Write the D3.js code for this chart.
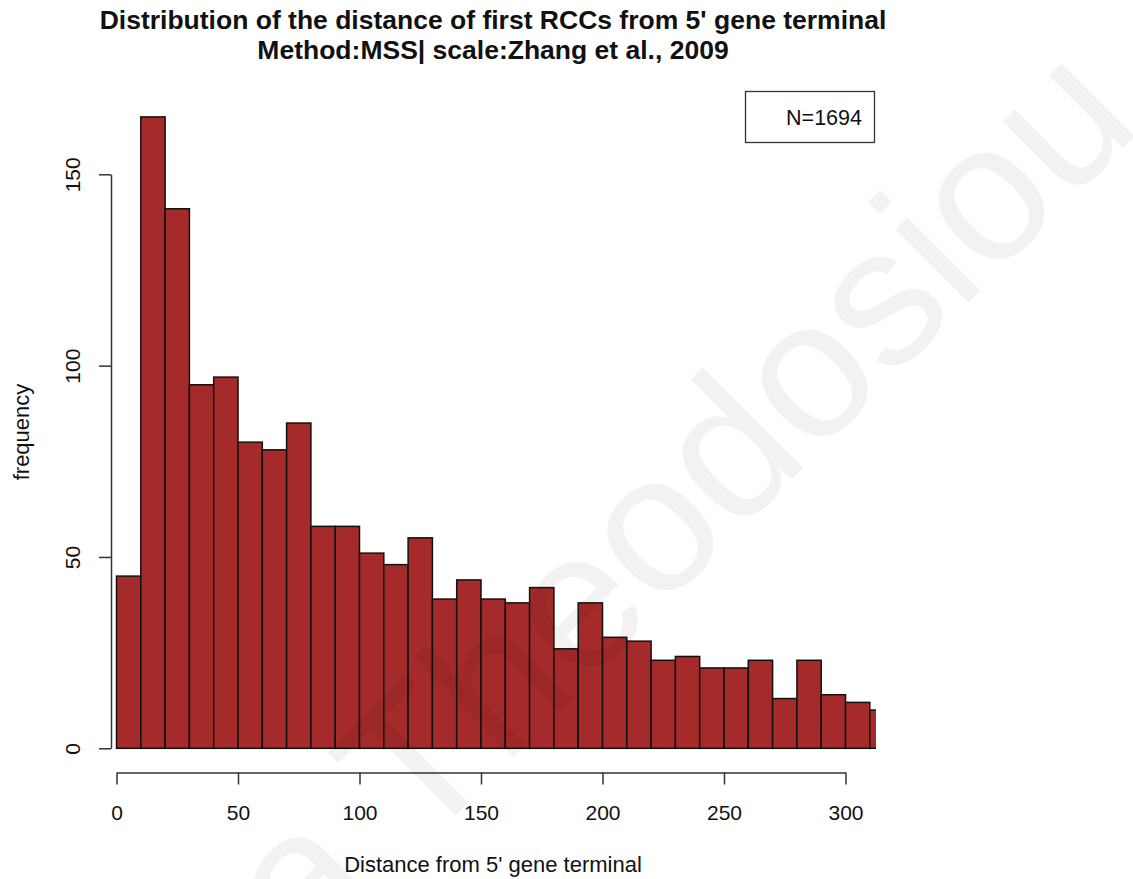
<!DOCTYPE html>
<html>
<head>
<meta charset="utf-8">
<script src="https://cdn.jsdelivr.net/npm/d3@7"></script>
<style>
  html, body { margin: 0; padding: 0; background: #ffffff; }
  svg { display: block; }
  text { font-family: "Liberation Sans", Arial, Helvetica, sans-serif; }
</style>
</head>
<body>
<svg id="chart" width="1133" height="879"></svg>
<script>
// Histogram of first-RCC distances (bin width 10)
const binStarts = [0, 10, 20, 30, 40, 50, 60, 70, 80, 90, 100, 110, 120, 130, 140, 150,
                   160, 170, 180, 190, 200, 210, 220, 230, 240, 250, 260, 270, 280, 290, 300, 310];
const binCounts = [45, 165, 141, 95, 97, 80, 78, 85, 58, 58, 51, 48, 55, 39, 44, 39,
                   38, 42, 26, 38, 29, 28, 23, 24, 21, 21, 23, 13, 23, 14, 12, 10];
const binWidth = 10;
const xTicks = [0, 50, 100, 150, 200, 250, 300];
const yTicks = [0, 50, 100, 150];
const titleLines = ["Distribution of the distance of first RCCs from 5' gene terminal",
                    "Method:MSS| scale:Zhang et al., 2009"];
const xLabel = "Distance from 5' gene terminal";
const yLabel = "frequency";
const legendText = "N=1694";
const watermark = "a Theodosiou";

const svg = d3.select("#chart");

// plotting frame
const plotLeft = 111, plotRight = 876;
const x = d3.scaleLinear().domain([0, 300]).range([116.5, 845.5]);
const y = d3.scaleLinear().domain([0, 150]).range([748.3, 174.3]);

svg.append("defs").append("clipPath").attr("id", "plotClip")
  .append("rect")
  .attr("x", plotLeft).attr("y", 60)
  .attr("width", plotRight - plotLeft).attr("height", 700);

// bars
const bins = binStarts.map((s, i) => ({ x0: s, x1: s + binWidth, n: binCounts[i] }));
svg.append("g").attr("clip-path", "url(#plotClip)")
  .selectAll("rect").data(bins).enter().append("rect")
  .attr("x", d => x(d.x0))
  .attr("y", d => y(d.n))
  .attr("width", d => x(d.x1) - x(d.x0))
  .attr("height", d => y(0) - y(d.n))
  .attr("fill", "#A52A2A")
  .attr("stroke", "#111")
  .attr("stroke-width", 1.5);

// y axis
const yAxis = svg.append("g").attr("transform", `translate(${plotLeft},0)`)
  .call(d3.axisLeft(y).tickValues(yTicks).tickSize(12).tickSizeOuter(0));
yAxis.selectAll("path, line").attr("stroke", "#333").attr("stroke-width", 1.5);
yAxis.selectAll("text").remove();
yAxis.selectAll(".tick").append("text")
  .attr("transform", "translate(-39,0) rotate(-90)")
  .attr("text-anchor", "middle")
  .attr("dy", "0.36em")
  .attr("fill", "#111")
  .style("font-size", "21px")
  .text(d => d);

// x axis
const xAxis = svg.append("g").attr("transform", "translate(0,772.5)")
  .call(d3.axisBottom(x).tickValues(xTicks).tickSize(12).tickSizeOuter(0));
xAxis.selectAll("path, line").attr("stroke", "#333").attr("stroke-width", 1.5);
xAxis.selectAll("text")
  .attr("y", 40).attr("dy", "0.36em")
  .attr("fill", "#111")
  .style("font-size", "21px");
svg.selectAll(".domain").attr("fill", "none");
svg.selectAll(".tick text").style("font-family", "'Liberation Sans', Arial, sans-serif");

// titles
svg.append("g").selectAll("text").data(titleLines).enter().append("text")
  .attr("x", 493).attr("y", (d, i) => 29 + i * 30)
  .attr("text-anchor", "middle")
  .attr("font-weight", "bold")
  .attr("fill", "#111")
  .style("font-size", "26.5px")
  .text(d => d);

svg.append("text")
  .attr("x", 493).attr("y", 872)
  .attr("text-anchor", "middle")
  .attr("fill", "#111")
  .style("font-size", "22px")
  .text(xLabel);

svg.append("text")
  .attr("transform", "translate(29,432) rotate(-90)")
  .attr("text-anchor", "middle")
  .attr("fill", "#111")
  .style("font-size", "22px")
  .text(yLabel);

// legend box
svg.append("rect")
  .attr("x", 745.5).attr("y", 91.5).attr("width", 129).attr("height", 51)
  .attr("fill", "none").attr("stroke", "#333").attr("stroke-width", 1.3);
svg.append("text")
  .attr("x", 862).attr("y", 125)
  .attr("text-anchor", "end")
  .attr("fill", "#111")
  .style("font-size", "21.5px")
  .text(legendText);

// faint diagonal watermark over the whole figure
svg.append("text")
  .attr("transform", "translate(1144,127) rotate(-45)")
  .attr("text-anchor", "end")
  .attr("fill", "#000")
  .attr("fill-opacity", 0.05)
  .style("font-size", "196px")
  .text(watermark);
</script>
</body>
</html>
